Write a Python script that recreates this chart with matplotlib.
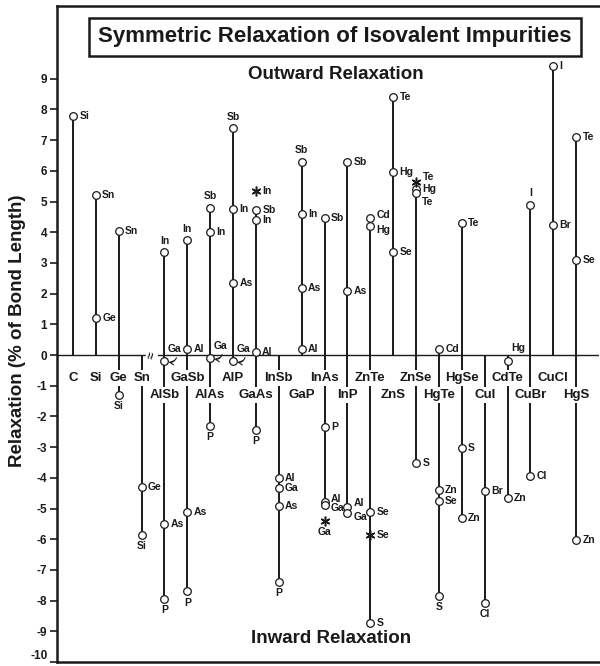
import matplotlib
matplotlib.use('Agg')
import matplotlib.pyplot as plt

plt.rcParams['font.family'] = ['Liberation Sans', 'DejaVu Sans']
plt.rcParams['font.weight'] = 'bold'
plt.rcParams['axes.unicode_minus'] = False

# host crystals, left to right
compounds = ["C", "Si", "Ge", "Sn", "AlSb", "GaSb", "AlAs", "AlP", "GaAs", "InSb", "GaP",
             "InAs", "InP", "ZnTe", "ZnS", "ZnSe", "HgTe", "HgSe", "CuI", "CdTe", "CuBr",
             "CuCl", "HgS"]

# impurity relaxations (% of bond length), one entry per circle
host = ["C",
        "Si", "Si",
        "Ge", "Ge",
        "Sn", "Sn",
        "AlSb", "AlSb", "AlSb", "AlSb",
        "GaSb", "GaSb", "GaSb", "GaSb",
        "AlAs", "AlAs", "AlAs", "AlAs",
        "AlP", "AlP", "AlP", "AlP",
        "GaAs", "GaAs", "GaAs", "GaAs",
        "InSb", "InSb", "InSb", "InSb",
        "GaP", "GaP", "GaP", "GaP",
        "InAs", "InAs", "InAs", "InAs",
        "InP", "InP", "InP", "InP",
        "ZnTe", "ZnTe", "ZnTe", "ZnTe",
        "ZnS", "ZnS", "ZnS",
        "ZnSe", "ZnSe", "ZnSe",
        "HgTe", "HgTe", "HgTe", "HgTe",
        "HgSe", "HgSe", "HgSe",
        "CuI", "CuI",
        "CdTe", "CdTe",
        "CuBr", "CuBr",
        "CuCl", "CuCl",
        "HgS", "HgS", "HgS"]
impurity = ["Si",
            "Sn", "Ge",
            "Sn", "Si",
            "Ge", "Si",
            "In", "Ga", "As", "P",
            "In", "Al", "As", "P",
            "Sb", "In", "Ga", "P",
            "Sb", "In", "As", "Ga",
            "Sb", "In", "Al", "P",
            "Al", "Ga", "As", "P",
            "Sb", "In", "As", "Al",
            "Sb", "P", "Al", "Ga",
            "Sb", "As", "Al", "Ga",
            "Cd", "Hg", "Se", "S",
            "Te", "Hg", "Se",
            "Hg", "Te", "S",
            "Cd", "Zn", "Se", "S",
            "Te", "S", "Zn",
            "Br", "Cl",
            "Hg", "Zn",
            "I", "Cl",
            "I", "Br",
            "Te", "Se", "Zn"]
relax = [7.8,
         5.2, 1.2,
         4.05, -1.3,
         -4.3, -5.85,
         3.35, -0.2, -5.5, -7.95,
         3.75, 0.2, -5.1, -7.7,
         4.8, 4.0, -0.1, -2.3,
         7.4, 4.77, 2.35, -0.2,
         4.72, 4.4, 0.1, -2.45,
         -4.0, -4.33, -4.92, -7.38,
         6.3, 4.6, 2.18, 0.2,
         4.46, -2.33, -4.8, -4.88,
         6.3, 2.1, -4.94, -5.15,
         4.46, 4.2, -5.1, -8.74,
         8.4, 5.95, 3.35,
         5.4, 5.27, -3.53,
         0.2, -4.4, -4.75, -7.84,
         4.3, -3.04, -5.3,
         -4.43, -8.07,
         -0.18, -4.67,
         4.9, -3.93,
         9.4, 4.23,
         7.1, 3.09, -6.03]
# label placement for each circle
side = ['r',
        'r', 'r',
        'r', 'b',
        'r', 'b',
        'a', 'ga', 'r', 'b',
        'a', 'r', 'r', 'b',
        'a', 'r', 'ga', 'b',
        'a', 'r', 'r', 'ga',
        'r', 'r', 'r', 'b',
        'r', 'r', 'r', 'b',
        'a', 'r', 'r', 'r',
        'r', 'r', 'ru', 'rd',
        'r', 'r', 'ru', 'rd',
        'ru', 'rd', 'r', 'r',
        'r', 'r', 'r',
        'r', 'rd2', 'r',
        'r', 'r', 'r', 'b',
        'r', 'r', 'r',
        'r', 'b',
        'ul', 'r',
        'a', 'r',
        'r', 'r',
        'r', 'r', 'r']

# asterisk values
star_host = ["GaAs", "InAs", "ZnTe", "ZnSe"]
star_imp = ["In", "Ga", "Se", "Te"]
star_relax = [5.35, -5.4, -5.87, 5.65]
star_side = ['r', 'b', 'r', 'ru2']

ink = '#1a1a1a'
pos = {'r': ((4.5, 0), 'left', 'center'),
       'ru': ((4.5, 2.5), 'left', 'center'),
       'rd': ((4.5, -2.5), 'left', 'center'),
       'rd2': ((4.5, -6), 'left', 'center'),
       'ru2': ((5, 3.4), 'left', 'center'),
       'a': ((0, 4.5), 'center', 'bottom'),
       'b': ((0, -4.5), 'center', 'top'),
       'ul': ((7.5, 9), 'center', 'center'),
       'ga': ((7.5, 9), 'center', 'center')}

fig = plt.figure(figsize=(6, 6.66), dpi=100)
ax = fig.add_axes([57 / 600, 4 / 666, 542 / 600, 656 / 666])
ax.set_xlim(-0.7, 23.0)
ax.set_ylim(-10, 11.37)

xi = {c: i for i, c in enumerate(compounds)}

# vertical stems
for c in compounds:
    vals = [v for h, v in zip(host, relax) if h == c]
    lo, hi = min(min(vals), 0), max(max(vals), 0)
    ax.plot([xi[c], xi[c]], [lo, hi], color=ink, lw=1.4, zorder=2, solid_capstyle='butt')

ax.axhline(0, color=ink, lw=1.0, zorder=2)
ax.text(3.45, 0, '≈', rotation=80, ha='center', va='center', fontsize=9, color=ink,
        bbox=dict(facecolor='white', edgecolor='none', pad=0), zorder=3)

# circles and labels
ax.plot([xi[h] for h in host], relax, 'o', ms=5.5, mfc='white', mec=ink, mew=0.9, zorder=5)
for h, el, v, s in zip(host, impurity, relax, side):
    off, ha, va = pos[s]
    if s == 'ga':
        ax.annotate(el, (xi[h], v), xytext=off, textcoords='offset points', ha=ha, va=va,
                    fontsize=7.5, color=ink, zorder=6,
                    arrowprops=dict(arrowstyle='->', color=ink, lw=0.8, shrinkA=1, shrinkB=3,
                                    connectionstyle='arc3,rad=-0.6',
                                    relpos=(0.7, 0.0)))
    else:
        ax.annotate(el, (xi[h], v), xytext=off, textcoords='offset points', ha=ha, va=va,
                    fontsize=7.5, color=ink, zorder=6)

ax.plot([xi[h] for h in star_host], star_relax, ls='none', marker=(6, 2, 0), ms=7,
        mec=ink, mew=1.1, zorder=5)
for h, el, v, s in zip(star_host, star_imp, star_relax, star_side):
    off, ha, va = pos[s]
    ax.annotate(el, (xi[h], v), xytext=off, textcoords='offset points', ha=ha, va=va,
                fontsize=7.5, color=ink, zorder=6)

# host names, two staggered rows below the zero line
for i, c in enumerate(compounds):
    row2 = i >= 4 and i % 2 == 0
    ax.text(i, -1.3 if row2 else -0.75, c, ha='center', va='center', fontsize=9.5,
            color=ink, zorder=4,
            bbox=dict(facecolor='white', edgecolor='none', pad=1.2))

ax.text(11.46, 11.37 - 31 / 30.7, 'Symmetric Relaxation of Isovalent Impurities',
        ha='center', va='center', fontsize=16, color=ink,
        bbox=dict(boxstyle='square,pad=0.4', facecolor='white', edgecolor=ink, lw=1.8))
ax.text(11.5, 9.15, 'Outward Relaxation', ha='center', va='center', fontsize=13.5, color=ink)
ax.text(11.3, -9.25, 'Inward Relaxation', ha='center', va='center', fontsize=13.5, color=ink)
fig.text(18 / 600, 1 - 331 / 666, 'Relaxation (% of Bond Length)', rotation=90,
         ha='center', va='center', fontsize=13.5, color=ink)

ax.set_yticks(range(-10, 10))
ax.set_xticks([])
ax.tick_params(axis='y', direction='out', length=5, width=1.2, labelsize=8.5, colors=ink, pad=2)
for t in ax.get_yticklabels():
    t.set_fontweight('bold')
ax.get_yticklabels()[0].set_va('bottom')
for sp in ['left', 'top', 'bottom']:
    ax.spines[sp].set_linewidth(1.8)
    ax.spines[sp].set_color(ink)
ax.spines['right'].set_visible(False)

fig.savefig('out.png', dpi=100, facecolor='white')
